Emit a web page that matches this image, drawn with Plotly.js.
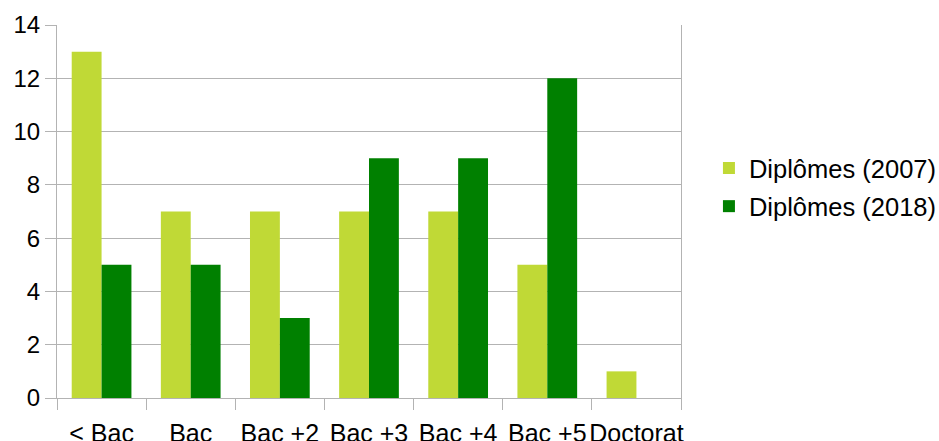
<!DOCTYPE html>
<html>
<head>
<meta charset="utf-8">
<script src="https://cdn.plot.ly/plotly-3.0.1.min.js"></script>
<style>html,body{margin:0;padding:0;background:#fff;}#chart{width:939px;height:441px;}</style>
</head>
<body>
<div id="chart"></div>
<script>
const categories = ["< Bac", "Bac", "Bac +2", "Bac +3", "Bac +4", "Bac +5", "Doctorat"];
const values2007 = [13, 7, 7, 7, 7, 5, 1];
const values2018 = [5, 5, 3, 9, 9, 12, 0];
const seriesNames = ["Diplômes (2007)", "Diplômes (2018)"];
const yTicks = [0, 2, 4, 6, 8, 10, 12, 14];

const gray = "#b3b3b3";
const fam = "Liberation Sans, Arial, sans-serif";
const yFont = {family: fam, size: 24, color: "#000"};
const xFont = {family: fam, size: 25, color: "#000"};
const legFont = {family: fam, size: 25.5, color: "#000"};

const traces = [
  {type: "bar", x: categories, y: values2007, name: seriesNames[0], marker: {color: "#c0d936"}, legendgroup: "a"},
  {type: "bar", x: categories, y: values2018, name: seriesNames[1], marker: {color: "#008000"}, legendgroup: "b"}
];

const layout = {
  width: 939, height: 441,
  margin: {l: 57, r: 258, t: 25, b: 43, pad: 0, autoexpand: false},
  paper_bgcolor: "#fff", plot_bgcolor: "#fff",
  font: yFont,
  barmode: "group", bargap: 0.33, bargroupgap: 0,
  showlegend: true,
  legend: {xref: "container", yref: "container", x: 0.755, xanchor: "left", y: 0.575, yanchor: "middle", font: legFont,
           traceorder: "grouped", tracegroupgap: 2, bgcolor: "rgba(0,0,0,0)"},
  xaxis: {
    type: "category", showline: true, linecolor: gray, linewidth: 1,
    ticks: "outside", tickson: "boundaries", ticklen: 11, tickcolor: gray, tickwidth: 1,
    showgrid: false, tickfont: xFont, tickangle: 0, ticklabelstandoff: 13, fixedrange: true
  },
  yaxis: {
    range: [0, 14], tickmode: "array", tickvals: yTicks, ticktext: yTicks.map(String),
    showline: true, linecolor: gray, linewidth: 1, mirror: true,
    ticks: "outside", ticklen: 11, tickcolor: gray, tickwidth: 1,
    showgrid: true, gridcolor: gray, gridwidth: 1, zeroline: false,
    tickfont: yFont, fixedrange: true
  }
};

Plotly.newPlot("chart", traces, layout, {displayModeBar: false, staticPlot: true});
</script>
</body>
</html>
